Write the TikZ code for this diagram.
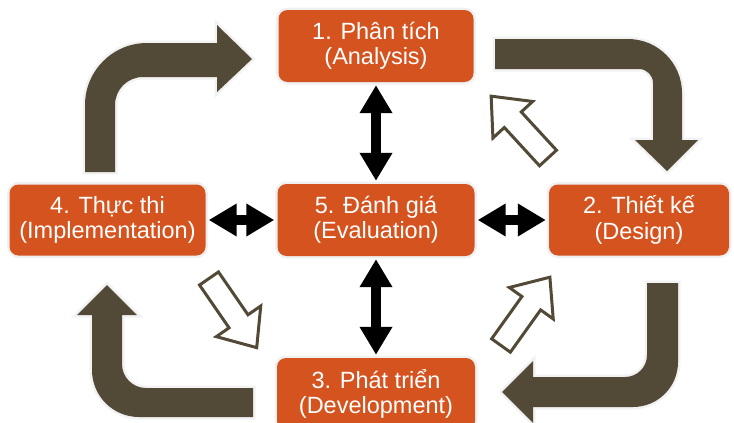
\documentclass[tikz,border=0pt]{standalone}
\usepackage{fontspec}
\setmainfont{Liberation Sans}
\usetikzlibrary{arrows.meta}
\definecolor{boxorange}{RGB}{213,83,31}
\definecolor{arrowbrown}{RGB}{82,74,55}
\begin{document}
\begin{tikzpicture}[x=1pt,y=-1pt,
  stage/.style={fill=boxorange, rounded corners=9pt, text=white, align=center,
    inner sep=0pt, preaction={draw=black!6, line width=5pt},
    font=\fontsize{23.5}{25.5}\selectfont},
  dbl/.style={draw=black, line width=10pt,
    {Triangle[width=31pt,length=28pt]}-{Triangle[width=31pt,length=28pt]},
    shorten <=3pt, shorten >=3pt},
  bigarrow/.style={fill=arrowbrown, preaction={draw=black!5, line width=5pt}},
  hollowarrow/.style={draw=arrowbrown, line width=3pt, fill=white, line join=miter}]
\useasboundingbox (0,0) rectangle (734,423);
\clip (0,0) rectangle (734,423);

% big bent arrows
\path[bigarrow] (85,172) -- (85,105) .. controls (85,70.8) and (112.8,43) .. (147,43)
  -- (217,43) -- (217,25) -- (252,59) -- (217,92) -- (217,77) -- (143,77)
  .. controls (127.5,77) and (115,89.5) .. (115,105) -- (115,172) -- cycle;
\path[bigarrow] (495,39) -- (628,39) .. controls (657.8,39) and (682,63.2) .. (682,93)
  -- (682,140) -- (698,140) -- (667,171) -- (635,140) -- (653,140) -- (653,83)
  .. controls (653,75.3) and (646.7,69) .. (639,69) -- (495,69) -- cycle;
\path[bigarrow] (647,283) -- (678,283) -- (678,362) .. controls (678,386.9) and (657.9,407) .. (633,407)
  -- (533,407) -- (533,423) -- (502,392) -- (533,361) -- (533,377) -- (625,377)
  .. controls (637.2,377) and (647,367.2) .. (647,355) -- cycle;
\path[bigarrow] (253,388) -- (146,388) .. controls (132.7,388) and (122,377.3) .. (122,364)
  -- (122,315) -- (137,315) -- (107,285) -- (77,315) -- (92,315) -- (92,370)
  .. controls (92,396) and (113,417) .. (139,417) -- (253,417) -- cycle;

% hollow arrows
\begin{scope}[shift={(548,158)}, rotate=132.6]
  \path[hollowarrow] (0,-11.5) -- (52,-11.5) -- (52,-27) -- (84,0) -- (52,27) -- (52,11.5) -- (0,11.5) -- cycle;
\end{scope}
\begin{scope}[shift={(501,345.5)}, rotate=54.4]
  \path[hollowarrow] (0,-11.5) -- (52,-11.5) -- (52,-27) -- (84,0) -- (52,27) -- (52,11.5) -- (0,11.5) -- cycle;
\end{scope}
\begin{scope}[shift={(209,278.5)}, rotate=-55.4]
  \path[hollowarrow] (0,-11.5) -- (52,-11.5) -- (52,-27) -- (84,0) -- (52,27) -- (52,11.5) -- (0,11.5) -- cycle;
\end{scope}

% stages
\node[stage, minimum width=195pt, minimum height=72pt] (n1) at (376,46) {1. Phân tích\\(Analysis)};
\node[stage, minimum width=180pt, minimum height=71pt] (n2) at (639,220) {2. Thiết kế\\(Design)};
\node[stage, minimum width=198pt, minimum height=72pt] (n3) at (376,394) {3. Phát triển\\(Development)};
\node[stage, minimum width=196pt, minimum height=71pt] (n4) at (107.5,220) {4. Thực thi\\(Implementation)};
\node[stage, minimum width=197pt, minimum height=72pt] (n5) at (376,220) {5. Đánh giá\\(Evaluation)};

% double arrows
\draw[dbl] (n1) -- (n5);
\draw[dbl] (n5) -- (n3);
\draw[dbl] (n4) -- (n5);
\draw[dbl] (n5) -- (n2);
\end{tikzpicture}
\end{document}
